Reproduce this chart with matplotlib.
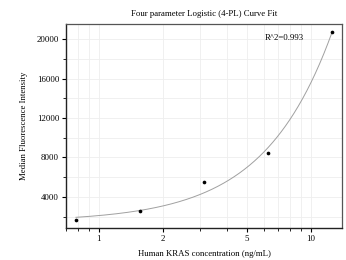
import numpy as np
import matplotlib
matplotlib.use("Agg")
import matplotlib.pyplot as plt
from matplotlib.ticker import FixedLocator, NullFormatter, FixedFormatter

conc = [0.78, 1.56, 3.125, 6.25, 12.5]
mfi = [1670, 2580, 5520, 8450, 20700]
# 4PL fit parameters (a: bottom, b: slope, c: EC50, d: top)
fit_a, fit_b, fit_c, fit_d = 1500.0, 1.36, 380.0, 2000000.0
r2_text = "R^2=0.993"
xticks = [1, 2, 5, 10]
xticklabels = ["1", "2", "5", "10"]
yticks = [4000, 8000, 12000, 16000, 20000]

plt.rcParams['font.family'] = ['Liberation Serif', 'DejaVu Serif']

fig = plt.figure(figsize=(3.46, 2.60), dpi=100)
ax = fig.add_axes([66/346, 1-228/260, (342-66)/346, (228-24)/260])

xs = np.logspace(np.log10(conc[0]), np.log10(conc[-1]), 300)
ys = fit_d + (fit_a - fit_d) / (1 + (xs / fit_c) ** fit_b)
ax.plot(xs, ys, color='#a0a0a0', lw=0.7, zorder=2)
ax.scatter(conc, mfi, s=7, color='black', zorder=3, linewidths=0)

ax.set_xscale('log')
ax.set_xlim(0.70, 14.0)
ax.set_ylim(860, 21520)

minor_x = [0.7, 0.8, 0.9, 3, 4, 6, 7, 8, 9]
ax.xaxis.set_major_locator(FixedLocator(xticks))
ax.xaxis.set_major_formatter(FixedFormatter(xticklabels))
ax.xaxis.set_minor_locator(FixedLocator(minor_x))
ax.xaxis.set_minor_formatter(NullFormatter())
ax.yaxis.set_major_locator(FixedLocator(yticks))
ax.yaxis.set_minor_locator(FixedLocator([2000, 6000, 10000, 14000, 18000]))

ax.grid(True, which='both', color='#eeeeee', lw=0.6, zorder=0)
ax.set_axisbelow(True)
ax.tick_params(which='major', direction='out', length=3, width=0.8, labelsize=6.3, pad=2)
ax.tick_params(which='minor', direction='out', length=2, width=0.6)
for name, s in ax.spines.items():
    if name in ('left', 'bottom'):
        s.set_linewidth(1.0)
        s.set_color('#222222')
    else:
        s.set_linewidth(0.9)
        s.set_color('#555555')

ax.set_title("Four parameter Logistic (4-PL) Curve Fit", fontsize=6.3, pad=6)
ax.set_xlabel("Human KRAS concentration (ng/mL)", fontsize=6.3, labelpad=5)
ax.set_ylabel("Median Fluorescence Intensity", fontsize=6.3, labelpad=6)
ax.text(0.86, 0.93, r2_text, transform=ax.transAxes, fontsize=6.3, ha='right', va='center')

fig.savefig("out.png", dpi=100)
